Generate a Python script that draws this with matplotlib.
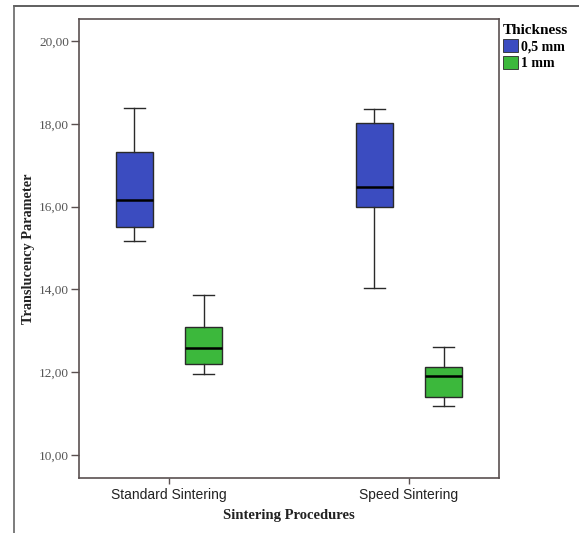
import matplotlib
matplotlib.use("Agg")
import matplotlib.pyplot as plt
from matplotlib.lines import Line2D
from matplotlib.patches import Patch

# Box plot summaries per sintering procedure and thickness
procedures = ["Standard Sintering", "Speed Sintering"]
thickness_labels = ["0,5 mm", "1 mm"]
colors = ["#3b4cc0", "#3cb83c"]

whislo = {"0,5 mm": [15.16, 14.03], "1 mm": [11.95, 11.18]}
q1 = {"0,5 mm": [15.52, 16.00], "1 mm": [12.21, 11.40]}
median = {"0,5 mm": [16.17, 16.48], "1 mm": [12.58, 11.92]}
q3 = {"0,5 mm": [17.32, 18.02], "1 mm": [13.09, 12.12]}
whishi = {"0,5 mm": [18.37, 18.35], "1 mm": [13.87, 12.60]}

y_ticks = [10, 12, 14, 16, 18, 20]
y_tick_labels = ["10,00", "12,00", "14,00", "16,00", "18,00", "20,00"]

serif = "Liberation Serif"
sans = "Liberation Sans"
spine_color = "#5a5050"

fig = plt.figure(figsize=(5.79, 5.33), dpi=100)
ax = fig.add_axes([0.1364, 0.1032, 0.7254, 0.8612])

offsets = [-0.144, 0.144]
width = 0.154
for k, lab in enumerate(thickness_labels):
    stats = []
    for i in range(len(procedures)):
        stats.append(dict(whislo=whislo[lab][i], q1=q1[lab][i], med=median[lab][i],
                          q3=q3[lab][i], whishi=whishi[lab][i], fliers=[]))
    positions = [i + offsets[k] for i in range(len(procedures))]
    ax.bxp(stats, positions=positions, widths=width, patch_artist=True,
           showfliers=False, manage_ticks=False,
           boxprops=dict(facecolor=colors[k], edgecolor="#2a2a2a", linewidth=1.0),
           medianprops=dict(color="black", linewidth=1.8),
           whiskerprops=dict(color="#2a2a2a", linewidth=1.0),
           capprops=dict(color="#2a2a2a", linewidth=1.0),
           capwidths=width * 0.58)

ax.set_xlim(-0.375, 1.375)
ax.set_ylim(9.45, 20.53)
ax.set_xticks(range(len(procedures)))
ax.set_xticklabels(procedures, fontfamily=sans, fontsize=10, color="#222222")
ax.set_yticks(y_ticks)
ax.set_yticklabels(y_tick_labels, fontfamily=serif, fontsize=9.5, color="#555555")
ax.tick_params(axis="y", length=6, width=1.0, color=spine_color, pad=1)
ax.tick_params(axis="x", length=4, width=1.0, color=spine_color, pad=3)
for s in ax.spines.values():
    s.set_color(spine_color)
    s.set_linewidth(1.2)

ax.set_xlabel("Sintering Procedures", fontfamily=serif, fontweight="bold",
              fontsize=10.5, color="#222222", labelpad=5)
ax.set_ylabel("Translucency Parameter", fontfamily=serif, fontweight="bold",
              fontsize=10.3, color="#222222")
ax.yaxis.set_label_coords(-0.105, 0.5)

handles = [Patch(facecolor=c, edgecolor="#2a2a2a", linewidth=0.6) for c in colors]
leg = fig.legend(handles, thickness_labels, loc="upper left",
                 bbox_to_anchor=(0.868, 0.955), frameon=False, title="Thickness",
                 handlelength=1.1, handleheight=1.1, handletextpad=0.2,
                 labelspacing=0.15, borderaxespad=0, borderpad=0,
                 prop=dict(family=serif, weight="bold", size=10))
leg.get_title().set_fontfamily(serif)
leg.get_title().set_fontweight("bold")
leg.get_title().set_fontsize(11)
leg._legend_box.align = "left"

# outer frame lines
fig.add_artist(Line2D([14 / 579, 1.0], [1 - 6 / 533, 1 - 6 / 533],
                      transform=fig.transFigure, color="#444444", linewidth=1.2))
fig.add_artist(Line2D([14 / 579, 14 / 579], [0.0, 1 - 6 / 533],
                      transform=fig.transFigure, color="#666666", linewidth=1.2))

fig.savefig("out.png", dpi=100)
